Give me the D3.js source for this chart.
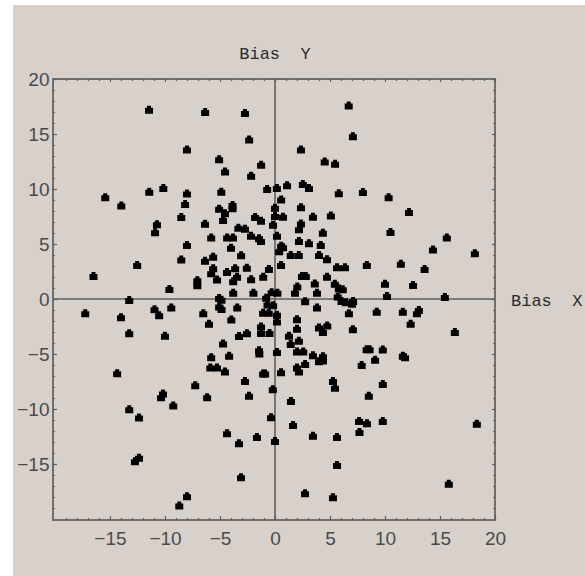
<!DOCTYPE html>
<html><head><meta charset="utf-8">
<script src="https://cdn.jsdelivr.net/npm/d3@7"></script>
<style>
html,body{margin:0;padding:0;background:#ffffff;}
svg{display:block;}
</style>
</head><body>
<script>
// Data: Bias X / Bias Y points
const xs = [
 6.7,-11.45,-6.35,-2.73,7.08,-2.35,2.36,-8.0,4.52,5.46,-5.08,-4.54,-1.26,-2.17,1.1,2.53,3.09,0.17,-0.71,-10.15,
 5.8,7.99,10.33,-15.43,-13.97,-11.43,-8.0,-8.17,-4.88,-5.08,-3.86,-3.86,-4.55,-4.72,-8.52,-10.73,-10.9,-6.36,0.56,0,0,0.73,-0.18,-1.81,-1.27,2.36,3.45,5.08,2.36,2.18,12.18,10.5,15.62,4.35,-3.33,-2.73,-2.18,-1.45,-1.27,-5.8,-4.35,-3.82,0.18,2.18,3.09,
 18.17,14.36,13.6,11.44,8.35,12.55,10.0,10.18,15.44,4.16,4.0,4.73,1.43,2.17,0.56,0.73,0.38,0.55,-0.55,-1.07,-2.17,-1.96,-4.0,-3.08,-2.56,-8.0,-6.36,-5.62,-5.62,-5.8,-5.27,-4.36,-3.62,-3.45,-3.8,-3.8,-8.52,-7.06,-7.06,-9.6,-12.53,-16.5,-13.25,5.64,6.36,2.45,2.8,4.73,3.62,5.44,2.03,1.82,3.82,5.8,6.16,-0.8,-0.3,0.22,-5.08,-4.86,
 5.7,6.05,6.45,7.0,7.1,6.72,7.08,9.25,11.62,13.08,12.9,12.33,16.35,2.74,3.82,4.0,4.75,4.36,2.0,2.0,1.27,1.43,2.17,2.0,2.57,0.18,0.18,0.18,-0.17,-0.68,-1.08,-0.57,-1.27,-1.27,-0.5,-1.45,-1.42,-3.27,-2.55,-3.43,-3.97,-5.08,-4.86,-6.52,-6.0,-4.72,-17.25,-14.0,-10.95,-10.53,-9.43,-13.25,-10.0,8.33,8.6,9.8,3.45,4.0,4.36,4.36,
 9.1,7.88,11.62,11.82,9.8,8.53,7.64,8.36,9.8,7.68,18.35,15.8,2.0,2.18,2.74,0.55,-1.08,-0.9,-5.8,-4.17,-5.88,-5.27,-4.55,-14.35,-7.25,-10.18,-10.36,-9.25,-13.25,-12.36,-12.73,-12.36,-8.0,-8.7,-6.17,-2.73,-2.36,-0.2,1.45,5.27,5.45,-0.36,1.64,-4.36,-1.64,0,-3.27,3.45,5.64,5.64,-3.09,2.73,5.27
];
const ys = [
 17.6,17.2,17.0,16.9,14.8,14.5,13.6,13.6,12.5,12.3,12.7,11.6,12.2,11.2,10.35,10.45,10.1,10.1,10.0,10.1,
 9.62,9.73,9.25,9.25,8.5,9.75,9.6,8.63,9.75,8.2,8.55,8.25,7.8,7.18,7.45,6.8,6.06,6.85,9.05,8.3,7.55,7.47,6.76,7.46,7.12,8.33,7.47,7.58,6.87,6.35,7.9,6.1,5.6,6.03,6.48,6.38,5.76,5.52,5.27,5.6,5.6,5.6,5.76,5.27,5.06,
 4.15,4.5,2.73,3.2,3.1,1.27,1.38,0.28,0.18,4.9,4.0,3.62,4.0,4.0,4.85,4.7,4.35,3.09,2.73,2.03,1.79,0.56,4.65,3.97,2.85,4.9,3.48,3.85,2.79,2.33,1.77,2.46,2.79,2.03,1.62,0.56,3.6,1.7,1.24,0.9,3.08,2.1,-0.08,2.88,2.88,2.1,2.1,2.03,1.4,1.38,1.13,0.56,0.56,0.97,0.88,0.12,0.62,0.56,0.1,-0.07,
 0.23,-0.17,-0.3,-0.43,-0.17,-1.3,-2.76,-1.15,-1.15,-1.0,-1.3,-2.25,-3.0,-0.2,-0.78,-2.6,-2.4,-3.0,-1.85,-2.7,-3.35,-4.1,-3.8,-4.78,-4.78,-4.82,-1.44,-2.05,-0.57,-0.5,-1.25,-1.25,-2.5,-3.1,-3.1,-4.66,-4.95,-3.36,-3.12,-0.78,-1.87,-0.67,-0.9,-1.3,-2.24,-4.05,-1.3,-1.66,-0.93,-1.48,-0.78,-3.12,-3.35,-4.57,-4.57,-4.58,-5.12,-5.65,-5.2,-5.58,
 -5.52,-6.0,-5.15,-5.3,-7.72,-8.8,-11.1,-11.3,-11.1,-12.08,-11.35,-16.8,-6.22,-6.6,-5.9,-6.65,-6.78,-6.78,-5.3,-5.16,-6.22,-6.22,-6.6,-6.76,-7.85,-8.6,-8.93,-9.68,-10.03,-10.78,-14.75,-14.42,-17.92,-18.78,-8.92,-7.45,-8.8,-8.2,-9.27,-7.45,-8.06,-10.75,-11.45,-12.2,-12.55,-12.9,-13.12,-12.42,-12.55,-15.1,-16.2,-17.65,-18.02
];
const majorTicks = [-15,-10,-5,0,5,10,15,20];
const xLabel = "Bias  X";
const yLabel = "Bias  Y";

const W = 585, H = 576;
const svg = d3.select("body").append("svg").attr("width", W).attr("height", H);

svg.append("rect").attr("x",13).attr("y",5).attr("width",W-13).attr("height",H-5).attr("fill","#d8d1cb");

const x = d3.scaleLinear().domain([-20.18, 20]).range([53, 495]);
const y = d3.scaleLinear().domain([-20.09, 20]).range([520, 79]);

const allInts = d3.range(-20, 21);
const minor = allInts.filter(v => v % 5 !== 0);
const axisColor = "#5e5e5e";
const labelColor = "#4a4a4a";

function styleAxis(g){
  g.select(".domain").remove();
  g.selectAll(".tick line").attr("stroke", axisColor).attr("stroke-width", 1.2);
  g.selectAll(".tick text").attr("fill", labelColor)
   .style("font-family","'Liberation Sans', Arial, sans-serif").style("font-size","19px");
}

// minor ticks on all four sides (inward)
svg.append("g").attr("transform","translate(0,520)")
  .call(d3.axisBottom(x).tickValues(minor).tickSize(-2).tickFormat(""))
  .call(styleAxis);
svg.append("g").attr("transform","translate(0,79)")
  .call(d3.axisTop(x).tickValues(minor).tickSize(-2).tickFormat(""))
  .call(styleAxis);
svg.append("g").attr("transform","translate(53,0)")
  .call(d3.axisLeft(y).tickValues(minor).tickSize(-2).tickFormat(""))
  .call(styleAxis);
svg.append("g").attr("transform","translate(495,0)")
  .call(d3.axisRight(y).tickValues(minor).tickSize(-2).tickFormat(""))
  .call(styleAxis);

// major ticks with labels
svg.append("g").attr("transform","translate(0,520)")
  .call(d3.axisBottom(x).tickValues(majorTicks).tickSize(-4).tickPadding(11.5).tickFormat(d3.format("d")))
  .call(styleAxis);
svg.append("g").attr("transform","translate(53,0)")
  .call(d3.axisLeft(y).tickValues(majorTicks).tickSize(-4).tickPadding(3.5).tickFormat(d3.format("d")))
  .call(styleAxis);
svg.append("g").attr("transform","translate(0,79)")
  .call(d3.axisTop(x).tickValues(majorTicks).tickSize(-3).tickFormat(""))
  .call(styleAxis);
svg.append("g").attr("transform","translate(495,0)")
  .call(d3.axisRight(y).tickValues(majorTicks).tickSize(-3).tickFormat(""))
  .call(styleAxis);

// frame
svg.append("rect").attr("x",x(-20.18)).attr("y",y(20)).attr("width",x(20)-x(-20.18)).attr("height",y(-20.09)-y(20))
  .attr("fill","none").attr("stroke",axisColor).attr("stroke-width",1.7);

// axes through origin
svg.append("line").attr("x1",x(0)).attr("x2",x(0)).attr("y1",y(20)).attr("y2",y(-20.09))
  .attr("stroke",axisColor).attr("stroke-width",1.6);
svg.append("line").attr("x1",x(-20.18)).attr("x2",x(20)).attr("y1",y(0)).attr("y2",y(0))
  .attr("stroke",axisColor).attr("stroke-width",1.6);

// points
const marker = "M-4,4V-2H-2V-4H2V-2H4V4Z";
svg.append("g").selectAll("path").data(d3.range(xs.length)).join("path")
  .attr("d", marker)
  .attr("transform", i => `translate(${x(xs[i])},${y(ys[i])})`)
  .attr("fill","#000");

// axis labels
svg.append("text").attr("x",x(0)).attr("y",59).attr("text-anchor","middle")
  .attr("fill","#2a2a2a").style("font-family","'Liberation Mono', 'Courier New', monospace").style("font-size","17px")
  .style("white-space","pre").attr("xml:space","preserve").text(yLabel);
svg.append("text").attr("x",511).attr("y",y(0)+7).attr("text-anchor","start")
  .attr("fill","#2a2a2a").style("font-family","'Liberation Mono', 'Courier New', monospace").style("font-size","17px")
  .style("white-space","pre").attr("xml:space","preserve").text(xLabel);
</script>
</body></html>
